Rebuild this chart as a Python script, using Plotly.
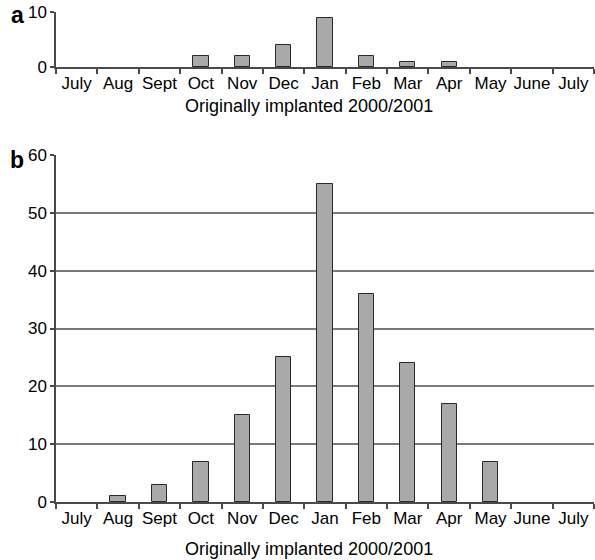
import plotly.graph_objects as go

months = ["July", "Aug", "Sept", "Oct", "Nov", "Dec", "Jan", "Feb", "Mar", "Apr", "May", "June", "July"]
values_a = [None, None, None, 2, 2, 4, 9, 2, 1, 1, None, None, None]
values_b = [None, 1, 3, 7, 15, 25, 55, 36, 24, 17, 7, None, None]
xpos = list(range(len(months)))

FONT = "Liberation Sans, Arial, sans-serif"
BAR_FILL = "#a9a9a9"
BAR_LINE = "#2a2a2a"
GRID = "#7a7a7a"
AXIS = "#4a4a4a"

W, H = 595, 560
L, R = 56, 1

def py(p):
    return 1 - p / H

fig = go.Figure()
fig.add_trace(go.Bar(x=xpos, y=values_a, width=0.37, marker=dict(color=BAR_FILL, line=dict(color=BAR_LINE, width=1)),
                     xaxis="x", yaxis="y", showlegend=False, hoverinfo="skip"))
fig.add_trace(go.Bar(x=xpos, y=values_b, width=0.37, marker=dict(color=BAR_FILL, line=dict(color=BAR_LINE, width=1)),
                     xaxis="x2", yaxis="y2", showlegend=False, hoverinfo="skip"))

xcommon = dict(range=[-0.5, len(months) - 0.5], tickmode="array", tickvals=xpos, ticktext=months,
               ticks="", showgrid=False, zeroline=False, showline=True, linecolor=AXIS, linewidth=1.5,
               tickfont=dict(size=17, color="black", family=FONT), automargin=False,
               minor=dict(tickmode="array", tickvals=[i - 0.5 for i in xpos] + [len(months) - 0.5],
                          ticks="outside", ticklen=5, tickcolor=AXIS, tickwidth=1.5, showgrid=False),
               fixedrange=True)
ycommon = dict(ticks="outside", ticklen=4, tickcolor=AXIS, tickwidth=1.5, showgrid=True, gridcolor=GRID,
               gridwidth=1.5, zeroline=False, showline=True, linecolor=AXIS, linewidth=1.5, automargin=False,
               tickfont=dict(size=17, color="black", family=FONT), fixedrange=True)

fig.update_layout(
    template="none",
    width=W, height=H,
    margin=dict(l=L, r=R, t=0, b=0, autoexpand=False),
    paper_bgcolor="white", plot_bgcolor="white",
    font=dict(family=FONT, color="black"),
    bargap=0,
    showlegend=False,
    xaxis=dict(domain=[0, 1], anchor="y", **xcommon),
    yaxis=dict(domain=[py(67), py(12)], anchor="x", range=[0, 10], tickvals=[0, 10], **ycommon),
    xaxis2=dict(domain=[0, 1], anchor="y2", **xcommon),
    yaxis2=dict(domain=[py(502), py(155)], anchor="x2", range=[0, 60], tickvals=[0, 10, 20, 30, 40, 50, 60], **ycommon),
    annotations=[
        dict(text="Originally implanted 2000/2001", xref="paper", yref="paper", x=(309 - L) / (W - L - R), y=py(106),
             xanchor="center", yanchor="middle", showarrow=False, font=dict(size=18, color="black", family=FONT)),
        dict(text="Originally implanted 2000/2001", xref="paper", yref="paper", x=(309 - L) / (W - L - R), y=py(549),
             xanchor="center", yanchor="middle", showarrow=False, font=dict(size=18, color="black", family=FONT)),
        dict(text="<b>a</b>", xref="paper", yref="paper", x=(17 - L) / (W - L - R), y=py(15),
             xanchor="center", yanchor="middle", showarrow=False, font=dict(size=23, color="black", family=FONT)),
        dict(text="<b>b</b>", xref="paper", yref="paper", x=(17 - L) / (W - L - R), y=py(160),
             xanchor="center", yanchor="middle", showarrow=False, font=dict(size=23, color="black", family=FONT)),
    ],
)

fig.write_html("out.html", config={"displayModeBar": False},
               post_script="document.body.style.margin='0';document.body.style.overflow='hidden';")
